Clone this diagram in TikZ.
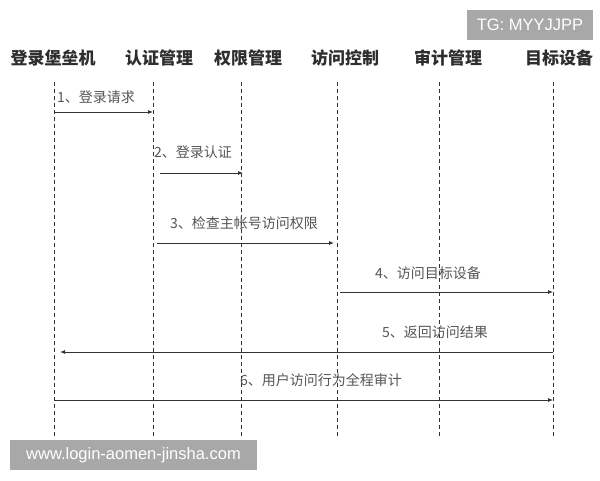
\documentclass[tikz,border=0pt]{standalone}
\usepackage{fontspec}
\setmainfont{Noto Sans CJK SC}
\newfontfamily\wmfont{Liberation Sans}
\usetikzlibrary{arrows.meta}
\definecolor{headc}{HTML}{2E2E2E}
\definecolor{labc}{HTML}{555555}
\definecolor{linec}{HTML}{333333}
\definecolor{boxc}{HTML}{A8A8A8}
\begin{document}
\begin{tikzpicture}[x=1pt,y=-1pt,
  head/.style={font=\fontsize{17}{20}\selectfont\bfseries, text=headc, inner sep=0pt},
  lab/.style={font=\fontsize{14}{16}\selectfont, text=labc, inner sep=0pt, anchor=west},
  life/.style={draw=linec, line width=0.8pt, dash pattern=on 4pt off 3pt},
  msg/.style={draw=linec, line width=0.8pt, -{Latex[length=5pt,width=4pt]}},
  wmbox/.style={fill=boxc, text=white, font=\wmfont\fontsize{16.5}{19}\selectfont, inner sep=0pt}]
\useasboundingbox (0,0) rectangle (600,480);
\fill[white] (0,0) rectangle (600,480);

% headers
\node[head] (h1) at (53,58) {登录堡垒机};
\node[head] (h2) at (159,58) {认证管理};
\node[head] (h3) at (248,58) {权限管理};
\node[head] (h4) at (345,58) {访问控制};
\node[head] (h5) at (448,58) {审计管理};
\node[head] (h6) at (559,58) {目标设备};

% lifelines
\foreach \i/\x in {1/54,2/153.5,3/241,4/337,5/439,6/553}{
  \coordinate (t\i) at (\x,82);
  \coordinate (b\i) at (\x,436);
  \draw[life] (t\i) -- (b\i);
}

% message end points
\coordinate (m1s) at (54,112);   \coordinate (m1e) at (153,112);
\coordinate (m2s) at (160,173);  \coordinate (m2e) at (243,173);
\coordinate (m3s) at (157,243);  \coordinate (m3e) at (334,243);
\coordinate (m4s) at (340,292);  \coordinate (m4e) at (553,292);
\coordinate (m5s) at (553,352);  \coordinate (m5e) at (60,352);
\coordinate (m6s) at (54,400);   \coordinate (m6e) at (553,400);

\draw[msg] (m1s) -- (m1e);
\draw[msg] (m2s) -- (m2e);
\draw[msg] (m3s) -- (m3e);
\draw[msg] (m4s) -- (m4e);
\draw[msg] (m5s) -- (m5e);
\draw[msg] (m6s) -- (m6e);

% labels
\node[lab] (l1) at (57,97) {1、登录请求};
\node[lab] (l2) at (154,152) {2、登录认证};
\node[lab] (l3) at (170,223) {3、检查主帐号访问权限};
\node[lab] (l4) at (375,273) {4、访问目标设备};
\node[lab] (l5) at (382,332) {5、返回访问结果};
\node[lab] (l6) at (240,380) {6、用户访问行为全程审计};

% watermark boxes
\node[wmbox, minimum width=126pt, minimum height=30pt] (tg) at (530,25) {TG: MYYJJPP};
\node[wmbox, minimum width=247pt, minimum height=30pt] (wm) at (133.5,455) {www.login-aomen-jinsha.com};
\end{tikzpicture}
\end{document}
